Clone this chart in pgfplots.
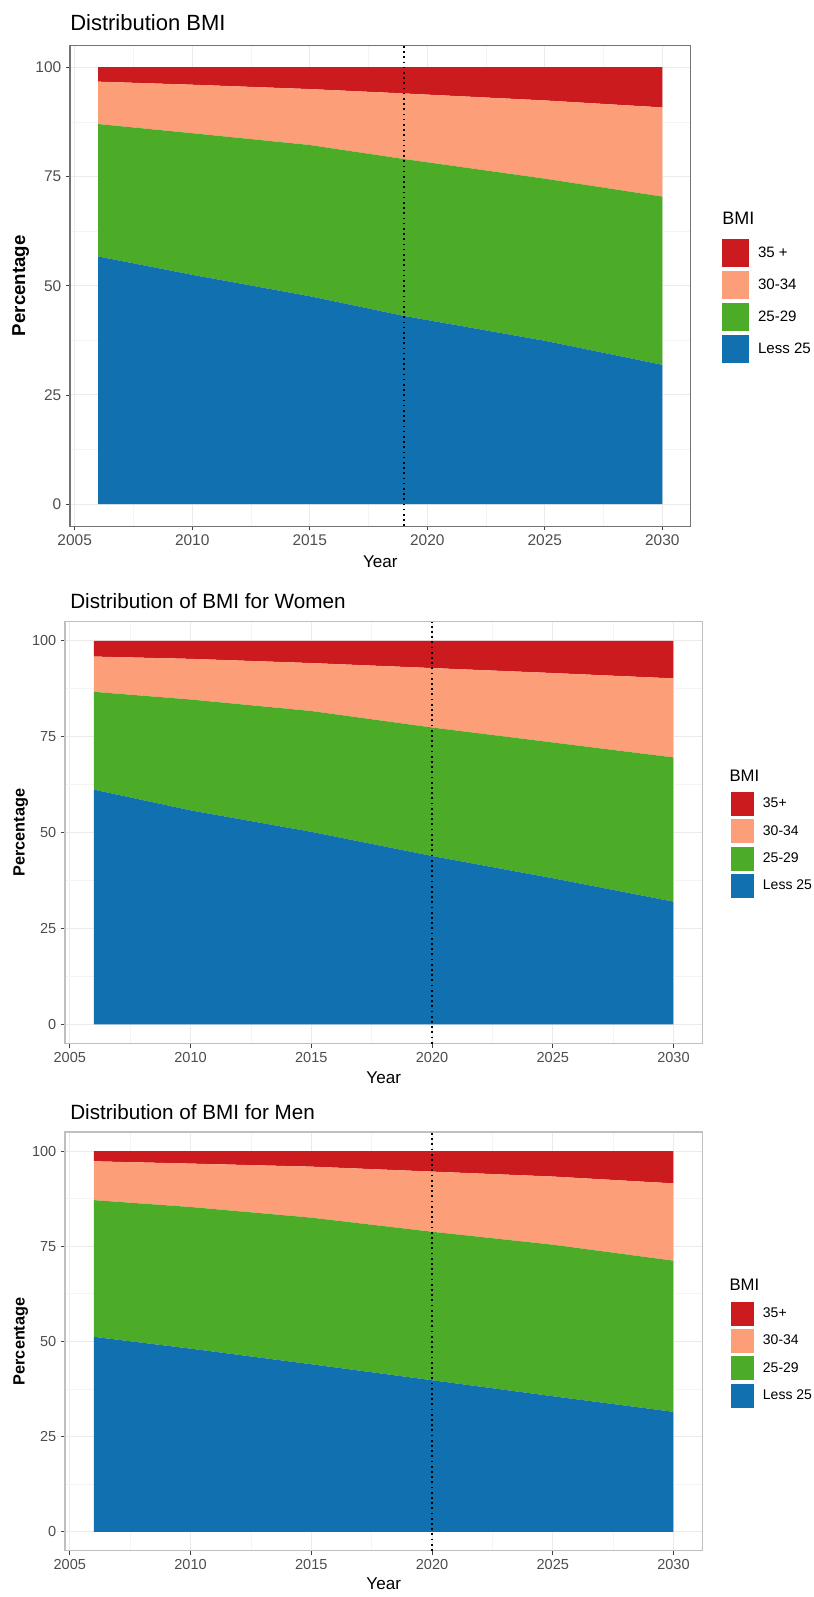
\documentclass[border=0pt]{standalone}
\usepackage{fontspec}
\setmainfont{Liberation Sans}
\usepackage{pgfplots}
\pgfplotsset{compat=1.18}
\usepackage{pgfplotstable}

\definecolor{cRed}{HTML}{CB1B1F}
\definecolor{cSal}{HTML}{FC9F79}
\definecolor{cGrn}{HTML}{4CAB27}
\definecolor{cBlu}{HTML}{1170B0}
\definecolor{gridmajor}{HTML}{EBEBEB}
\definecolor{gridminor}{HTML}{F4F4F4}
\definecolor{tickcol}{HTML}{4D4D4D}

% all panels: year, Less 25, 25-29, 30-34, 35+ (percent)
\pgfplotstableread{
year L25  B2529 B3034 B35
2006 56.7 30.3  9.7   3.3
2010 52.5 32.4  11.1  4.0
2015 47.6 34.6  12.8  5.0
2019 43.1 35.9  15.0  6.0
2025 37.4 37.1  17.9  7.6
2030 31.9 38.5  20.4  9.2
}\tabAll
\pgfplotstableread{
year L25  B2529 B3034 B35
2006 61.2 25.5  9.2   4.1
2010 55.8 28.9  10.6  4.7
2015 50.2 31.5  12.5  5.8
2020 43.9 33.5  15.5  7.1
2025 38.1 35.4  18.1  8.4
2030 32.0 37.6  20.6  9.8
}\tabWomen
\pgfplotstableread{
year L25  B2529 B3034 B35
2006 51.2 35.9  10.2  2.7
2010 48.1 37.2  11.4  3.3
2015 44.0 38.5  13.4  4.1
2020 39.8 39.0  15.8  5.4
2025 35.6 39.8  17.9  6.7
2030 31.5 39.7  20.3  8.5
}\tabMen

\newcommand{\keyw}{20pt}
\newcommand{\keyh}{10.6pt}

\tikzset{vdot/.style={black, line width=1.1pt, dash pattern=on 1.3pt off 2.6pt}}

\pgfplotsset{
  bmi/.style={
    scale only axis,
    anchor=north west,
    xmin=2004.8, xmax=2031.2, ymin=-5, ymax=105,
    xtick={2005,2010,...,2030}, ytick={0,25,50,75,100},
    minor x tick num=1, minor y tick num=1,
    xtick pos=left, ytick pos=left,
    grid=both,
    major grid style={color=gridmajor, line width=0.7pt},
    minor grid style={color=gridminor, line width=0.5pt},
    tick align=outside, major tick length=3pt, minor tick length=0pt,
    major tick style={color=black!75, line width=0.6pt},
    x tick label style={/pgf/number format/1000 sep={}},
    /pgf/number format/assume math mode=true,
    ticklabel style={color=tickcol},
    stack plots=y,
    clip=false,
    reverse legend,
    legend cell align=left,
    legend style={draw=none, fill=none, inner sep=0pt, outer sep=0pt,
      anchor=north west, nodes={inner sep=0pt},
      /tikz/every odd column/.append style={column sep=7pt}},
    legend image code/.code={\path[##1] (0pt,-\keyh) rectangle (\keyw,\keyh);},
    every axis title/.style={anchor=base west, inner sep=0pt, at={(rel axis cs:0,1)}},
    xlabel style={anchor=center},
    ylabel style={anchor=center, rotate=0},
  },
  over/.style={
    scale only axis,
    anchor=north west,
    xmin=2004.8, xmax=2031.2, ymin=-5, ymax=105,
    axis lines=none, clip=false,
  },
}

\begin{document}
\begin{tikzpicture}
\useasboundingbox (0,0) rectangle (610.5pt,1197.75pt);

% ---------------- Panel 1 ----------------
\renewcommand{\keyw}{20pt}\renewcommand{\keyh}{10.6pt}
\begin{axis}[bmi,
  at={(52.5pt,1163.7pt)}, width=465.4pt, height=360.5pt,
  axis line style={color=black!55, line width=0.8pt},
  ticklabel style={font=\fontsize{11.6}{13}\selectfont},
  title={Distribution BMI},
  title style={yshift=11.5pt, font=\fontsize{16.5}{19}\selectfont},
  xlabel={Year},
  xlabel style={at={(axis description cs:0.5,-0.075)}, font=\fontsize{12.8}{15}\selectfont},
  ylabel={\bfseries Percentage},
  ylabel style={at={(axis description cs:-0.0793,0.5)}, font=\fontsize{14}{16}\selectfont},
  legend style={at={(axis description cs:1.0508,0.598)}, row sep=2.9pt,
    font=\fontsize{11.3}{13}\selectfont},
]
\addplot[fill=cBlu, draw=none] table[x=year, y=L25]{\tabAll} \closedcycle;
\addlegendentry{Less 25}
\addplot[fill=cGrn, draw=none] table[x=year, y=B2529]{\tabAll} \closedcycle;
\addlegendentry{25-29}
\addplot[fill=cSal, draw=none] table[x=year, y=B3034]{\tabAll} \closedcycle;
\addlegendentry{30-34}
\addplot[fill=cRed, draw=none] table[x=year, y=B35]{\tabAll} \closedcycle;
\addlegendentry{35 +}
\node[anchor=west, inner sep=0pt, font=\fontsize{13.5}{15}\selectfont] at (axis description cs:1.0508,0.641) {BMI};
\end{axis}
\begin{axis}[over, at={(52.5pt,1163.7pt)}, width=465.4pt, height=360.5pt]
\addplot[vdot] coordinates {(2019,-5) (2019,105)};
\end{axis}

% ---------------- Panel 2 ----------------
\renewcommand{\keyw}{17.25pt}\renewcommand{\keyh}{9pt}
\begin{axis}[bmi,
  at={(48.75pt,731.5pt)}, width=478.1pt, height=316.4pt,
  axis line style={color=black!25, line width=0.8pt},
  ticklabel style={font=\fontsize{10.9}{12}\selectfont},
  title={Distribution of BMI for Women},
  title style={xshift=3.75pt, yshift=9.8pt, font=\fontsize{15.5}{18}\selectfont},
  xlabel={Year},
  xlabel style={at={(axis description cs:0.5,-0.0815)}, font=\fontsize{12.8}{15}\selectfont},
  ylabel={\bfseries Percentage},
  ylabel style={at={(axis description cs:-0.0693,0.5)}, font=\fontsize{12.2}{14}\selectfont},
  legend style={at={(axis description cs:1.0447,0.5963)}, row sep=2.5pt,
    font=\fontsize{10.5}{12}\selectfont,
    /tikz/every odd column/.append style={column sep=6.75pt}},
]
\addplot[fill=cBlu, draw=none] table[x=year, y=L25]{\tabWomen} \closedcycle;
\addlegendentry{Less 25}
\addplot[fill=cGrn, draw=none] table[x=year, y=B2529]{\tabWomen} \closedcycle;
\addlegendentry{25-29}
\addplot[fill=cSal, draw=none] table[x=year, y=B3034]{\tabWomen} \closedcycle;
\addlegendentry{30-34}
\addplot[fill=cRed, draw=none] table[x=year, y=B35]{\tabWomen} \closedcycle;
\addlegendentry{35+}
\node[anchor=west, inner sep=0pt, font=\fontsize{12.5}{14}\selectfont] at (axis description cs:1.042,0.634) {BMI};
\end{axis}
\begin{axis}[over, at={(48.75pt,731.5pt)}, width=478.1pt, height=316.4pt]
\addplot[vdot] coordinates {(2020,-5) (2020,105)};
\end{axis}

% ---------------- Panel 3 ----------------
\begin{axis}[bmi,
  at={(48.75pt,348.75pt)}, width=478.1pt, height=314.1pt,
  axis line style={color=black!25, line width=0.8pt},
  ticklabel style={font=\fontsize{10.9}{12}\selectfont},
  title={Distribution of BMI for Men},
  title style={xshift=3.75pt, yshift=9.5pt, font=\fontsize{15.5}{18}\selectfont},
  xlabel={Year},
  xlabel style={at={(axis description cs:0.5,-0.0793)}, font=\fontsize{12.8}{15}\selectfont},
  ylabel={\bfseries Percentage},
  ylabel style={at={(axis description cs:-0.0693,0.5)}, font=\fontsize{12.2}{14}\selectfont},
  legend style={at={(axis description cs:1.0447,0.595)}, row sep=2.5pt,
    font=\fontsize{10.5}{12}\selectfont,
    /tikz/every odd column/.append style={column sep=6.75pt}},
]
\addplot[fill=cBlu, draw=none] table[x=year, y=L25]{\tabMen} \closedcycle;
\addlegendentry{Less 25}
\addplot[fill=cGrn, draw=none] table[x=year, y=B2529]{\tabMen} \closedcycle;
\addlegendentry{25-29}
\addplot[fill=cSal, draw=none] table[x=year, y=B3034]{\tabMen} \closedcycle;
\addlegendentry{30-34}
\addplot[fill=cRed, draw=none] table[x=year, y=B35]{\tabMen} \closedcycle;
\addlegendentry{35+}
\node[anchor=west, inner sep=0pt, font=\fontsize{12.5}{14}\selectfont] at (axis description cs:1.042,0.635) {BMI};
\end{axis}
\begin{axis}[over, at={(48.75pt,348.75pt)}, width=478.1pt, height=314.1pt]
\addplot[vdot] coordinates {(2020,-5) (2020,105)};
\end{axis}
\end{tikzpicture}
\end{document}
